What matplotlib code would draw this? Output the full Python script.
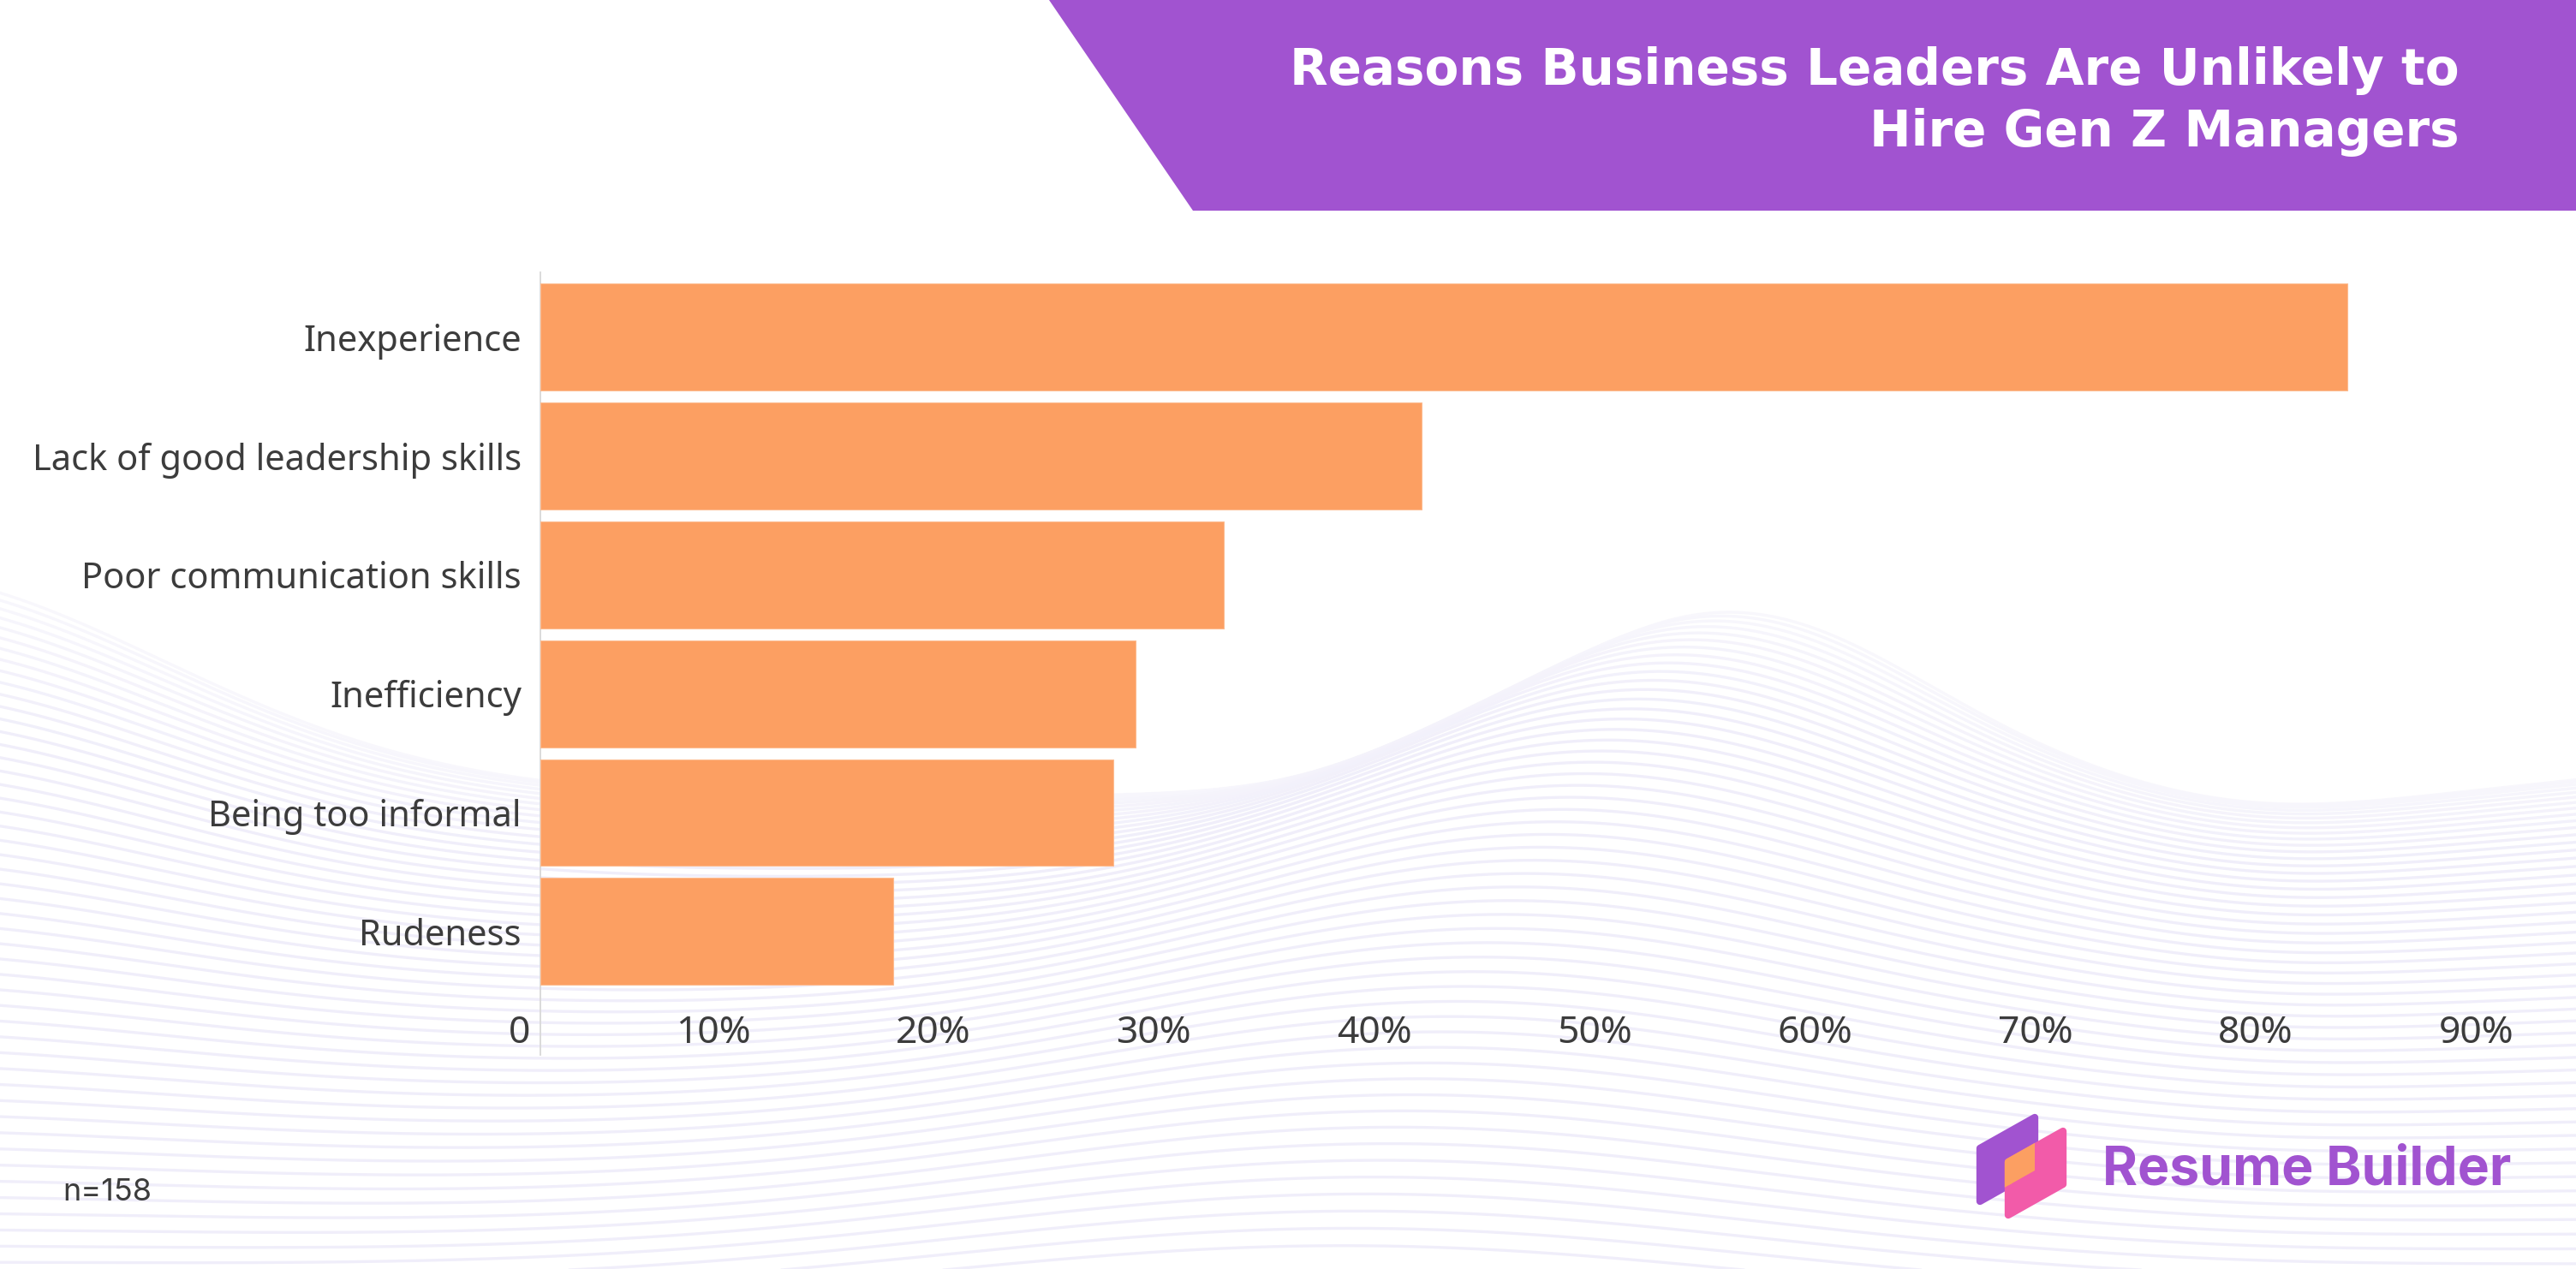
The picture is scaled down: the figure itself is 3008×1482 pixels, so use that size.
import numpy as np
import matplotlib.pyplot as plt
from matplotlib.patches import Polygon
from matplotlib.transforms import ScaledTranslation
from matplotlib.colors import to_rgb

# ---- data ----
reasons = ["Inexperience", "Lack of good leadership skills", "Poor communication skills",
           "Inefficiency", "Being too informal", "Rudeness"]
shares = [82, 40, 31, 27, 26, 16]
x_ticks = [0, 10, 20, 30, 40, 50, 60, 70, 80, 90]
x_tick_labels = ["0"] + [f"{v}%" for v in x_ticks[1:]]
title_lines = ["Reasons Business Leaders Are Unlikely to", "Hire Gen Z Managers"]
sample_note = "n=158"
brand = "Resume Builder"

PURPLE = "#A153D0"
ORANGE = "#FC9F62"
PINK = "#F25BA9"
TEXT = "#3C3C3C"
WAVE = "#F0EEFA"

plt.rcParams['font.family'] = ['Noto Sans', 'DejaVu Sans']

W, H = 3008, 1482
fig = plt.figure(figsize=(W / 100, H / 100), dpi=100)
fig.patch.set_facecolor('white')

# background layer in pixel coords
bg = fig.add_axes([0, 0, 1, 1], zorder=0)
bg.set_xlim(0, W)
bg.set_ylim(H, 0)
bg.axis('off')

# wavy line decoration
xs = np.linspace(-20, W + 20, 900)


def bump(x, c, w):
    return np.exp(-((x - c) / w) ** 2)


c_lo = np.array(to_rgb("#F8F7FC"))
c_hi = np.array(to_rgb(WAVE))
for t in np.linspace(0, 1, 52):
    off = 600 * t ** 1.5
    left = -262 * bump(xs, -150, 480) * (1 - t) ** 1.5
    main = -215 * (1 - 0.65 * t) * bump(xs, 2019 - 450 * t, 330 + 350 * t)
    right = (15 * bump(xs, 2650, 200) - 40 * bump(xs, 3300, 350)) * (1 - t)
    mix = min(1.0, t / 0.25)
    col = c_lo + (c_hi - c_lo) * mix
    bg.plot(xs, 930 + off + left + main + right, color=col, lw=2.4)

# header band
bg.add_patch(Polygon([(1225, 0), (W, 0), (W, 246), (1393, 246)], closed=True,
                     facecolor=PURPLE, edgecolor='none', zorder=3))
for i, line in enumerate(title_lines):
    fig.text(2872 / W, 1 - (99 + 72 * i) / H, line, ha='right', va='baseline',
             color='white', fontsize=41.8, fontweight='bold', family='DejaVu Sans')

# axis line
bg.plot([631, 631], [318, 1232], color='#D8D8D8', lw=1.3, zorder=4)

# ---- bar chart ----
ax = fig.add_axes([631 / W, 1 - 1157.2 / H, (2947 - 631) / W, 832.7 / H], zorder=1)
ax.patch.set_visible(False)
ax.barh(range(len(reasons)), shares, height=0.9, color=ORANGE,
        edgecolor='#FDBB90', linewidth=0.8)
ax.set_xlim(0, 90)
ax.set_ylim(len(reasons) - 0.5, -0.5)
for s in ax.spines.values():
    s.set_visible(False)

ax.set_yticks(range(len(reasons)), reasons)
ax.tick_params(axis='y', length=0, pad=16, labelsize=30, labelcolor=TEXT)
ax.set_xticks(x_ticks, x_tick_labels)
ax.tick_params(axis='x', length=0, pad=44, labelsize=32, labelcolor=TEXT)
shift = ScaledTranslation(-12 / 100, 0, fig.dpi_scale_trans)
for lbl in ax.get_xticklabels():
    lbl.set_ha('right')
    lbl.set_va('baseline')
    lbl.set_transform(lbl.get_transform() + shift)

# sample size
fig.text(73 / W, 1 - 1402 / H, sample_note, fontsize=26, family='Inter',
         color=TEXT, va='baseline')

# logo
purple_pts = [(2312, 1403), (2312, 1341), (2376, 1305), (2376, 1367)]
pink_pts = [(2345, 1419), (2345, 1357), (2409, 1321), (2409, 1383)]
p1 = Polygon(purple_pts, closed=True, facecolor=PURPLE, edgecolor=PURPLE,
             lw=6, joinstyle='round', zorder=5)
p2 = Polygon(pink_pts, closed=True, facecolor=PINK, edgecolor=PINK,
             lw=6, joinstyle='round', zorder=6)
p3 = Polygon(pink_pts, closed=True, facecolor=ORANGE, edgecolor=ORANGE,
             lw=6, joinstyle='round', zorder=7)
bg.add_patch(p1)
bg.add_patch(p2)
bg.add_patch(p3)
p3.set_clip_path(p1)
bg.text(2455, 1383, brand, color=PURPLE, fontsize=45, fontweight='bold',
        family='Inter', va='baseline', ha='left', zorder=8)

fig.savefig('out.png', dpi=100, facecolor='white')
